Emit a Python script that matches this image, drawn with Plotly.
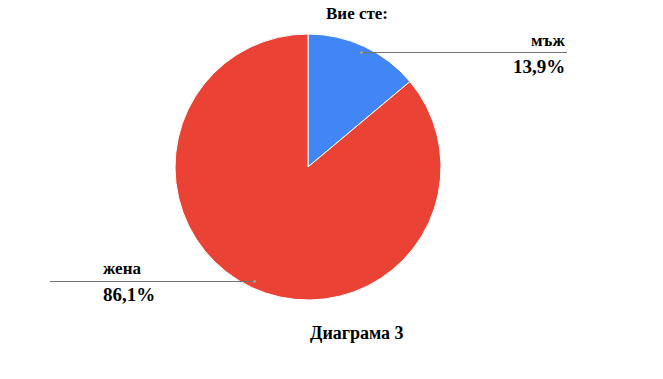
import math
import plotly.graph_objects as go

labels = ["мъж", "жена"]
values = [13.9, 86.1]
colors = ["#4285F4", "#EA4335"]
title_text = "Вие сте:"
caption_text = "Диаграма 3"

W, H = 663, 379
cx, cy, R = 308, 167, 133  # pie centre / radius in pixels

fig = go.Figure(go.Pie(
    labels=labels, values=values, sort=False, direction="clockwise", rotation=0,
    marker=dict(colors=colors, line=dict(color="white", width=1)),
    textinfo="none", hoverinfo="label+percent", showlegend=False,
    domain=dict(x=[(cx - R) / W, (cx + R) / W], y=[1 - (cy + R) / H, 1 - (cy - R) / H]),
))

def px(x):
    return x / W

def py(y):
    return 1 - y / H

font_b = "Liberation Serif"
shapes, annotations = [], []
total = sum(values)
start = 0.0
for lab, v in zip(labels, values):
    mid = (start + v / 2) / total * 2 * math.pi
    start += v
    dx, dy = cx + 0.95 * R * math.sin(mid), cy - 0.95 * R * math.cos(mid)
    right = math.sin(mid) > 0
    xend = 567 if right else 50
    shapes.append(dict(type="line", xref="paper", yref="paper",
                       x0=px(dx), y0=py(dy), x1=px(xend), y1=py(dy),
                       line=dict(color="#757575", width=1)))
    shapes.append(dict(type="circle", xref="paper", yref="paper",
                       x0=px(dx - 1.5), x1=px(dx + 1.5), y0=py(dy + 1.5), y1=py(dy - 1.5),
                       fillcolor="#9e9e9e", line=dict(width=0)))
    tx = 567 if right else 101
    anchor = "right" if right else "left"
    pct = f"{v:.1f}".replace(".", ",") + "%"
    annotations.append(dict(xref="paper", yref="paper", x=px(tx), y=py(dy - 1),
                            text=f"<b>{lab}</b>", showarrow=False, xanchor=anchor, yanchor="bottom",
                            font=dict(family=font_b, size=17, color="#000")))
    annotations.append(dict(xref="paper", yref="paper", x=px(tx), y=py(dy + 1),
                            text=f"<b>{pct}</b>", showarrow=False, xanchor=anchor, yanchor="top",
                            font=dict(family=font_b, size=19, color="#000")))

annotations.append(dict(xref="paper", yref="paper", x=px(357), y=py(14), text=f"<b>{title_text}</b>",
                        showarrow=False, xanchor="center", yanchor="middle",
                        font=dict(family=font_b, size=17, color="#000")))
annotations.append(dict(xref="paper", yref="paper", x=px(357), y=py(333), text=f"<b>{caption_text}</b>",
                        showarrow=False, xanchor="center", yanchor="middle",
                        font=dict(family=font_b, size=18, color="#000")))

fig.update_layout(width=W, height=H, margin=dict(l=0, r=0, t=0, b=0),
                  paper_bgcolor="white", plot_bgcolor="white",
                  shapes=shapes, annotations=annotations)
fig.write_html("out.html")
